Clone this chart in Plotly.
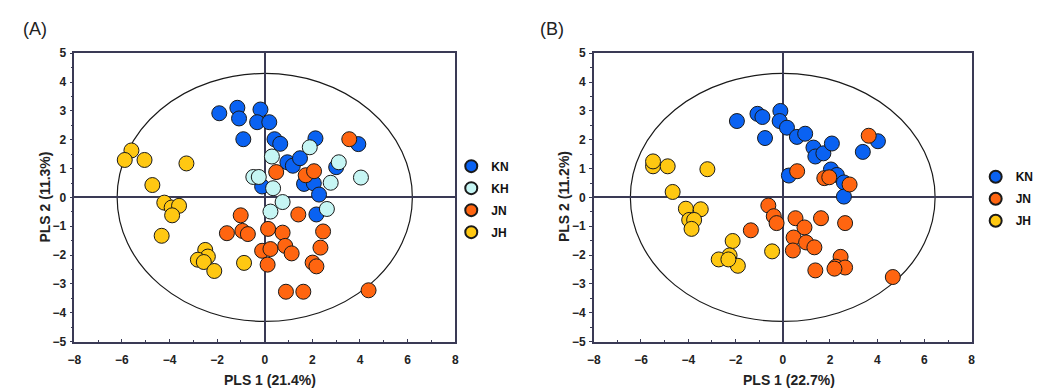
import plotly.graph_objects as go

W, H = 1043, 392

# ---------------- Panel A data ----------------
A_KN_x = [-1.91, -1.15, -1.08, -0.18, -0.32, 0.19, -0.90, 0.41, 0.65, 2.13, 3.93, 0.95, 1.18, 1.48, 3.00, 1.65, 2.06, 2.28, -0.11, 2.17]
A_KN_y = [2.92, 3.11, 2.74, 3.05, 2.61, 2.61, 2.02, 2.02, 1.86, 2.05, 1.85, 1.22, 1.10, 1.36, 1.05, 0.47, 0.49, 0.10, 0.38, -0.59]
A_KH_x = [0.30, 1.89, 3.11, -0.48, -0.25, 0.35, 0.75, 0.24, 2.77, 4.04, 2.61]
A_KH_y = [1.42, 1.74, 1.22, 0.71, 0.71, 0.32, -0.16, -0.49, 0.51, 0.69, -0.40]
A_JN_x = [3.55, 0.48, 1.72, 2.07, 1.41, -1.01, -1.59, -0.94, -0.71, 0.14, 0.75, 2.45, -0.11, 0.24, 0.86, 1.13, 2.34, 0.12, 2.01, 2.17, 0.89, 1.62, 4.36]
A_JN_y = [2.02, 0.88, 0.77, 0.91, -0.59, -0.62, -1.24, -1.16, -1.27, -1.09, -1.22, -1.18, -1.85, -1.79, -1.68, -1.94, -1.74, -2.33, -2.26, -2.39, -3.27, -3.27, -3.22]
A_JH_x = [-5.60, -5.88, -5.05, -3.29, -4.72, -4.22, -3.91, -3.60, -3.89, -4.33, -2.50, -2.39, -2.81, -2.56, -2.12, -0.87]
A_JH_y = [1.63, 1.30, 1.30, 1.18, 0.43, -0.18, -0.35, -0.29, -0.62, -1.33, -1.82, -2.05, -2.16, -2.24, -2.55, -2.27]

# ---------------- Panel B data ----------------
B_KN_x = [-1.94, -1.07, -0.86, -0.10, -0.13, 0.18, -0.75, 0.60, 0.95, 1.30, 1.38, 1.72, 2.08, 3.39, 4.03, 0.26, 2.04, 2.29, 2.59, 2.59]
B_KN_y = [2.65, 2.90, 2.79, 3.00, 2.65, 2.42, 2.06, 2.10, 2.21, 1.73, 1.42, 1.53, 1.87, 1.58, 1.95, 0.76, 0.97, 0.78, 0.52, 0.03]
B_JN_x = [3.64, 0.61, 1.76, 1.97, 2.83, -0.61, -0.38, -0.26, -1.35, 0.54, 1.62, 2.64, 0.92, 0.46, 0.99, 1.34, 0.43, 2.45, 2.25, 2.64, 1.38, 4.66, 2.19]
B_JN_y = [2.14, 0.91, 0.67, 0.70, 0.45, -0.28, -0.65, -0.89, -1.14, -0.72, -0.72, -0.89, -1.04, -1.39, -1.56, -1.73, -1.84, -2.06, -2.40, -2.43, -2.53, -2.76, -2.47]
B_JH_x = [-5.49, -5.49, -4.87, -3.19, -4.66, -4.10, -3.47, -3.96, -3.75, -3.86, -2.12, -2.25, -2.71, -1.90, -0.45, -2.30]
B_JH_y = [1.08, 1.25, 1.08, 0.98, 0.19, -0.39, -0.41, -0.78, -0.78, -1.09, -1.51, -2.01, -2.15, -2.37, -1.87, -2.15]

# ellipse half-axes (data units) and axis labels
A_ellipse = (6.2, 4.3)
B_ellipse = (6.45, 4.3)
A_xtitle, A_ytitle = "PLS 1 (21.4%)", "PLS 2 (11.3%)"
B_xtitle, B_ytitle = "PLS 1 (22.7%)", "PLS 2 (11.2%)"
x_ticks = [-8, -6, -4, -2, 0, 2, 4, 6, 8]
y_ticks = [-5, -4, -3, -2, -1, 0, 1, 2, 3, 4, 5]

COLORS = {"KN": "#0a62f2", "KH": "#c6f6f4", "JN": "#ff6510", "JH": "#ffc812"}
FONT = "Liberation Sans, Arial, sans-serif"
AXC = "#3a3a55"

fig = go.Figure()

def add_series(name, xs, ys, xa, ya, legend):
    fig.add_trace(go.Scatter(
        x=xs, y=ys, mode="markers", name=name,
        xaxis=xa, yaxis=ya, legend=legend, legendgroup=legend + name,
        marker=dict(size=15, color=COLORS[name], line=dict(color="#1a1a1a", width=1)),
    ))

add_series("KN", A_KN_x, A_KN_y, "x", "y", "legend")
add_series("KH", A_KH_x, A_KH_y, "x", "y", "legend")
add_series("JN", A_JN_x, A_JN_y, "x", "y", "legend")
add_series("JH", A_JH_x, A_JH_y, "x", "y", "legend")
add_series("KN", B_KN_x, B_KN_y, "x2", "y2", "legend2")
add_series("JN", B_JN_x, B_JN_y, "x2", "y2", "legend2")
add_series("JH", B_JH_x, B_JH_y, "x2", "y2", "legend2")

def px_x(p):
    return p / W

def px_y(p):
    return 1 - p / H

dom_y = [px_y(347), px_y(48)]
xdomA = [px_x(68), px_x(453)]
xdomB = [px_x(593), px_x(975)]

tickfont = dict(family=FONT, size=12, color="#222222", weight="bold")
xcommon = dict(range=[-8, 8], tickvals=x_ticks, ticks="inside", ticklen=3, tickwidth=1,
               tickcolor=AXC, showline=True, linecolor=AXC, linewidth=1.5, mirror=True,
               showgrid=False, zeroline=True, zerolinecolor=AXC, zerolinewidth=1.5,
               minor=dict(dtick=1, ticks="inside", ticklen=2, tickcolor=AXC),
               tickfont=tickfont, ticklabelstandoff=6, fixedrange=True)
ycommon = dict(range=[-5, 5], tickvals=y_ticks, ticks="outside", ticklen=3, tickwidth=1,
               tickcolor=AXC, showline=True, linecolor=AXC, linewidth=1.5, mirror=True,
               showgrid=False, zeroline=True, zerolinecolor=AXC, zerolinewidth=1.5,
               minor=dict(dtick=0.5, ticks="outside", ticklen=2, tickcolor=AXC),
               tickfont=tickfont, ticklabelstandoff=1, fixedrange=True)

fig.update_layout(
    width=W, height=H, margin=dict(l=0, r=0, t=0, b=0),
    paper_bgcolor="white", plot_bgcolor="white",
    font=dict(family=FONT, color="#222222"),
    xaxis=dict(domain=xdomA, anchor="y", **xcommon),
    yaxis=dict(domain=dom_y, anchor="x", **ycommon),
    xaxis2=dict(domain=xdomB, anchor="y2", **xcommon),
    yaxis2=dict(domain=dom_y, anchor="x2", **ycommon),
    legend=dict(x=px_x(449), y=px_y(150), xanchor="left", yanchor="top",
                font=dict(family=FONT, size=12, color="#111111", weight="bold"),
                tracegroupgap=3, itemsizing="constant", itemwidth=30,
                bgcolor="rgba(0,0,0,0)"),
    legend2=dict(x=px_x(979), y=px_y(161), xanchor="left", yanchor="top",
                 font=dict(family=FONT, size=12, color="#111111", weight="bold"),
                 tracegroupgap=3, itemsizing="constant", itemwidth=30,
                 bgcolor="rgba(0,0,0,0)"),
    showlegend=True,
)

# ellipses (confidence circles)
for (rx, ry), xr, yr in [(A_ellipse, "x", "y"), (B_ellipse, "x2", "y2")]:
    fig.add_shape(type="circle", xref=xr, yref=yr, x0=-rx, x1=rx, y0=-ry, y1=ry,
                  line=dict(color="#1a1a1a", width=1.2), layer="below")

# axis titles and panel labels
ann = []
ann.append(dict(text=A_xtitle, x=px_x(266), y=px_y(387)))
ann.append(dict(text=B_xtitle, x=px_x(790), y=px_y(387)))
ann.append(dict(text=A_ytitle, x=px_x(38), y=px_y(197), textangle=-90))
ann.append(dict(text=B_ytitle, x=px_x(563), y=px_y(197), textangle=-90))
for a in ann:
    fig.add_annotation(xref="paper", yref="paper", showarrow=False,
                       xanchor="center", yanchor="middle",
                       font=dict(family=FONT, size=14, color="#222222", weight="bold"), **a)
fig.add_annotation(text="(A)", xref="paper", yref="paper", x=px_x(14), y=px_y(23),
                   xanchor="left", yanchor="middle", showarrow=False,
                   font=dict(family=FONT, size=18, color="#222222"))
fig.add_annotation(text="(B)", xref="paper", yref="paper", x=px_x(537), y=px_y(23),
                   xanchor="left", yanchor="middle", showarrow=False,
                   font=dict(family=FONT, size=18, color="#222222"))

fig.write_html("out.html")
